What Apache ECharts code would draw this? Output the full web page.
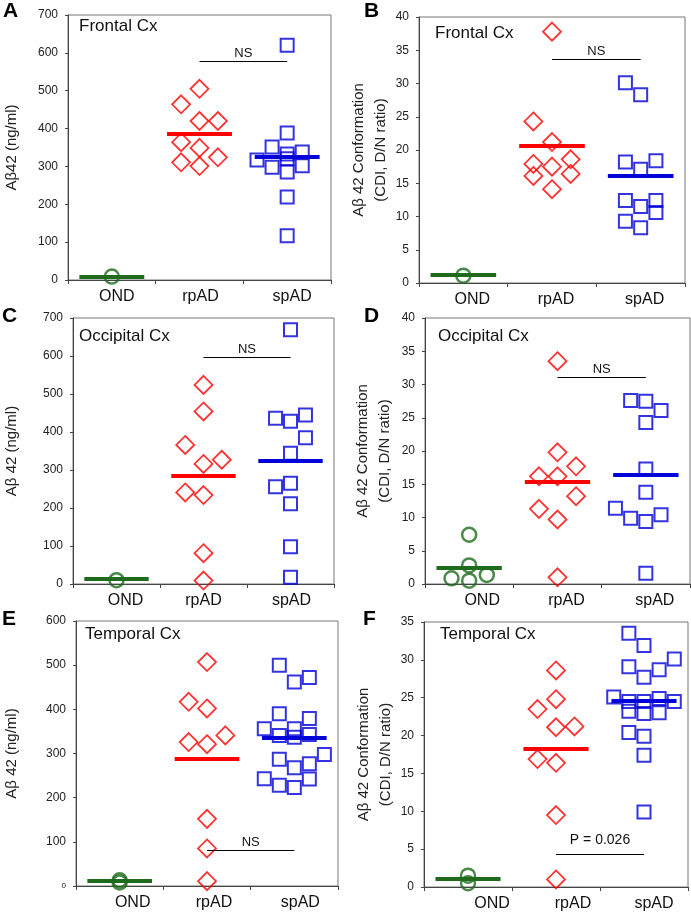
<!DOCTYPE html>
<html><head><meta charset="utf-8">
<script src="https://cdn.jsdelivr.net/npm/echarts@6/dist/echarts.min.js"></script>
<style>html,body{margin:0;padding:0;background:#fff}#c{width:691px;height:915px}</style>
</head><body><div id="c"></div>
<script>
// ---------- DATA ----------
const categories = ['OND', 'rpAD', 'spAD'];
const panelLetters = ['A', 'B', 'C', 'D', 'E', 'F'];
const regionLabels = ['Frontal Cx', 'Frontal Cx', 'Occipital Cx', 'Occipital Cx', 'Temporal Cx', 'Temporal Cx'];
const yTitles = ['Aβ42 (ng/ml)', 'Aβ 42 Conformation\n(CDI, D/N ratio)', 'Aβ 42 (ng/ml)',
                 'Aβ 42 Conformation\n(CDI, D/N ratio)', 'Aβ 42 (ng/ml)', 'Aβ 42 Conformation\n(CDI, D/N ratio)'];
const yMax = [700, 40, 700, 40, 600, 35];
const yStep = [100, 5, 100, 5, 100, 5];
const statLabels = ['NS', 'NS', 'NS', 'NS', 'NS', 'P = 0.026'];
const statValues = [578, 33.7, 597, 31.1, 82, 4.3];

// A: Frontal Cx, Aβ42 (ng/ml)
const frontalConc_OND = [9];
const frontalConc_OND_col = [0];
const frontalConc_rpAD = [505, 464, 420, 420, 364, 349, 324, 311, 301];
const frontalConc_rpAD_col = [0, -1, 0, 1, -1, 0, 1, -1, 0];
const frontalConc_spAD = [620, 388, 351, 338, 317, 333, 320, 298, 302, 285, 219, 117];
const frontalConc_spAD_col = [0, 0, -1, 1, -2, 0, 0, -1, 1, 0, 0, 0];
const frontalConc_means = [9, 387, 326];

// B: Frontal Cx, conformation
const frontalConf_OND = [1.1];
const frontalConf_OND_col = [0];
const frontalConf_rpAD = [37.8, 24.3, 21.2, 17.9, 17.5, 18.6, 16.1, 16.4, 14.1];
const frontalConf_rpAD_col = [0, -1, 0, -1, 0, 1, -1, 1, 0];
const frontalConf_spAD = [30.1, 28.3, 18.2, 17.1, 18.4, 12.4, 11.5, 12.4, 10.6, 9.3, 8.3];
const frontalConf_spAD_col = [-1, 0, -1, 0, 1, -1, 0, 1, 1, -1, 0];
const frontalConf_means = [1.2, 20.6, 16.1];

// C: Occipital Cx, Aβ42 (ng/ml)
const occipitalConc_OND = [10];
const occipitalConc_OND_col = [0];
const occipitalConc_rpAD = [524, 454, 366, 316, 327, 241, 234, 81, 9];
const occipitalConc_rpAD_col = [0, 0, -1, 0, 1, -1, 0, 0, 0];
const occipitalConc_spAD = [669, 436, 428, 445, 385, 344, 256, 265, 211, 98, 18];
const occipitalConc_spAD_col = [0, -1, 0, 1, 1, 0, -1, 0, 0, 0, 0];
const occipitalConc_means = [13, 286, 325];

// D: Occipital Cx, conformation
const occipitalConf_OND = [7.4, 2.8, 0.85, 0.5, 1.36];
const occipitalConf_OND_col = [0, 0, -1, 0, 1];
const occipitalConf_rpAD = [33.5, 19.8, 17.7, 16.2, 16.2, 13.2, 11.3, 9.7, 1.0];
const occipitalConf_rpAD_col = [0, 0, 1, -1, 0, 1, -1, 0, 0];
const occipitalConf_spAD = [27.6, 27.5, 26.1, 24.3, 17.3, 13.8, 11.4, 9.9, 9.4, 10.4, 1.6];
const occipitalConf_spAD_col = [-1, 0, 1, 0, 0, 0, -2, -1, 0, 1, 0];
const occipitalConf_means = [2.4, 15.4, 16.4];

// E: Temporal Cx, Aβ42 (ng/ml)
const temporalConc_OND = [13, 8];
const temporalConc_OND_col = [0, 0];
const temporalConc_rpAD = [507, 417, 402, 326, 321, 341, 152, 85, 11];
const temporalConc_rpAD_col = [0, -1, 0, -1, 0, 1, 0, 0, 0];
const temporalConc_spAD = [500, 462, 472, 390, 379, 356, 341, 356, 337, 343, 287, 268, 277, 298, 243, 228, 223, 242];
const temporalConc_spAD_col = [-1, 0, 1, -1, 1, -2, -1, 0, 0, 1, -1, 0, 1, 2, -2, -1, 0, 1];
const temporalConc_means = [11, 287, 335];

// F: Temporal Cx, conformation
const temporalConf_OND = [1.5, 0.5];
const temporalConf_OND_col = [0, 0];
const temporalConf_rpAD = [28.6, 24.8, 23.5, 21.1, 21.2, 16.9, 16.4, 9.5, 1.0];
const temporalConf_rpAD_col = [0, 0, -1, 0, 1, -1, 0, 0, 0];
const temporalConf_spAD = [33.5, 31.9, 29.1, 27.7, 28.7, 30.1, 25.1, 24.5, 23.2, 24.5, 22.9, 24.9, 23.0, 24.5, 20.4, 19.9, 17.4, 9.9];
const temporalConf_spAD_col = [-1, 0, -1, 0, 1, 2, -2, -1, -1, 0, 0, 1, 1, 2, -1, 0, 0, 0];
const temporalConf_means = [1.05, 18.2, 24.6];

const panelValues = [
  [frontalConc_OND, frontalConc_rpAD, frontalConc_spAD],
  [frontalConf_OND, frontalConf_rpAD, frontalConf_spAD],
  [occipitalConc_OND, occipitalConc_rpAD, occipitalConc_spAD],
  [occipitalConf_OND, occipitalConf_rpAD, occipitalConf_spAD],
  [temporalConc_OND, temporalConc_rpAD, temporalConc_spAD],
  [temporalConf_OND, temporalConf_rpAD, temporalConf_spAD]
];
const panelCols = [
  [frontalConc_OND_col, frontalConc_rpAD_col, frontalConc_spAD_col],
  [frontalConf_OND_col, frontalConf_rpAD_col, frontalConf_spAD_col],
  [occipitalConc_OND_col, occipitalConc_rpAD_col, occipitalConc_spAD_col],
  [occipitalConf_OND_col, occipitalConf_rpAD_col, occipitalConf_spAD_col],
  [temporalConc_OND_col, temporalConc_rpAD_col, temporalConc_spAD_col],
  [temporalConf_OND_col, temporalConf_rpAD_col, temporalConf_spAD_col]
];
const panelMeans = [frontalConc_means, frontalConf_means, occipitalConc_means,
                    occipitalConf_means, temporalConc_means, temporalConf_means];

// ---------- STYLE / LAYOUT ----------
const FONT = '"Liberation Sans", Arial, Helvetica, sans-serif';
const COLORS = ['#1e6b1e', '#ff0000', '#0000d8'];
const SYMBOLS = ['circle', 'diamond', 'rect'];
const SIZES = [14, 18, 13];
const BORDERS = [2.5, 1.8, 2];
const STEP = [0.2, 0.21, 0.172];
const HALF = 0.37;
const layout = [
  {left: 64, top: 15, width: 267, height: 265, gap: 45, shift: [5, 1, 5], letter: [3, 12], region: [79, 28], dist: 1, tiny0: false},
  {left: 419, top: 17, width: 266, height: 266, gap: 27, shift: [9, 4, 4], letter: [364, 12], region: [435, 35], dist: 1, tiny0: false},
  {left: 69, top: 318, width: 265, height: 266, gap: 50, shift: [9, 0, 1], letter: [2, 317], region: [79, 338], dist: 1, tiny0: false},
  {left: 425, top: 318, width: 265, height: 266, gap: 29, shift: [13, 9, 9], letter: [364, 317], region: [438, 338], dist: 1, tiny0: false},
  {left: 72, top: 621, width: 266, height: 265, gap: 53, shift: [13, 7, 6], letter: [2, 620], region: [85, 636], dist: 1, tiny0: true},
  {left: 424, top: 622, width: 264, height: 265, gap: 25, shift: [24, 17, 10], letter: [363, 620], region: [440, 636], dist: 7, tiny0: false}
];

const grid = [], xAxis = [], yAxis = [], series = [], graphic = [];

layout.forEach((L, i) => {
  grid.push({left: L.left, top: L.top, width: L.width, height: L.height,
    show: true, borderColor: '#777', borderWidth: 1, backgroundColor: 'transparent'});
  const rich = {};
  categories.forEach((c, g) => { rich['c' + g] = {fontSize: 16, fontFamily: FONT, color: '#111', padding: [0, 0, 0, 2 * L.shift[g]]}; });
  xAxis.push({
    type: 'category', gridIndex: i, data: categories, boundaryGap: true,
    axisLine: {lineStyle: {color: '#444', width: 1}},
    axisTick: {show: true, length: 4, lineStyle: {color: '#444'}},
    axisLabel: {margin: 9, formatter: v => '{c' + categories.indexOf(v) + '|' + v + '}', rich: rich},
    splitLine: {show: false}
  });
  xAxis.push({type: 'value', gridIndex: i, min: 0, max: 3, show: false});
  yAxis.push({
    type: 'value', gridIndex: i, min: 0, max: yMax[i], interval: yStep[i],
    axisLine: {show: true, lineStyle: {color: '#444', width: 1}},
    axisTick: {show: true, length: 3, lineStyle: {color: '#444'}},
    splitLine: {show: false},
    axisLabel: {fontSize: 12, fontFamily: FONT, color: '#222', margin: 10,
      formatter: v => (L.tiny0 && v === 0) ? '{s|0}' : String(v),
      rich: {s: {fontSize: 8, fontFamily: FONT, color: '#222'}}},
    name: yTitles[i], nameLocation: 'middle', nameGap: L.gap,
    nameTextStyle: {fontSize: 15, fontFamily: FONT, color: '#222', lineHeight: 22}
  });
  categories.forEach((cat, g) => {
    const vals = panelValues[i][g], cols = panelCols[i][g], c = g + 0.5;
    const mlData = [[
      {coord: [c - HALF, panelMeans[i][g]], lineStyle: {color: COLORS[g], width: 4, type: 'solid'}},
      {coord: [c + HALF, panelMeans[i][g]]}
    ]];
    if (g === 1) {
      mlData.push([
        {coord: [1.5, statValues[i]], lineStyle: {color: '#000', width: 1, type: 'solid'},
         label: {show: true, position: 'middle', formatter: statLabels[i], color: '#111',
                 fontSize: i === 5 ? 14 : 13, fontFamily: FONT, distance: L.dist}},
        {coord: [2.5, statValues[i]]}
      ]);
    }
    series.push({
      type: 'scatter', name: cat, xAxisIndex: 2 * i + 1, yAxisIndex: i,
      symbol: SYMBOLS[g], symbolSize: SIZES[g],
      itemStyle: {color: 'rgba(0,0,0,0)', borderColor: COLORS[g], borderWidth: BORDERS[g]},
      data: vals.map((v, k) => [c + cols[k] * STEP[g], v]),
      markLine: {silent: true, symbol: 'none', animation: false, z: 5,
        label: {show: false}, data: mlData}
    });
  });
  graphic.push({type: 'text', left: L.letter[0], top: L.letter[1] - 11,
    style: {text: panelLetters[i], font: 'bold 21px ' + FONT, fill: '#000'}});
  graphic.push({type: 'text', left: L.region[0], top: L.region[1] - 10,
    style: {text: regionLabels[i], font: '17px ' + FONT, fill: '#111'}});
});

const chart = echarts.init(document.getElementById('c'), null, {renderer: 'canvas'});
chart.setOption({
  animation: false, backgroundColor: '#fff',
  grid, xAxis, yAxis, series, graphic
});
</script></body></html>
